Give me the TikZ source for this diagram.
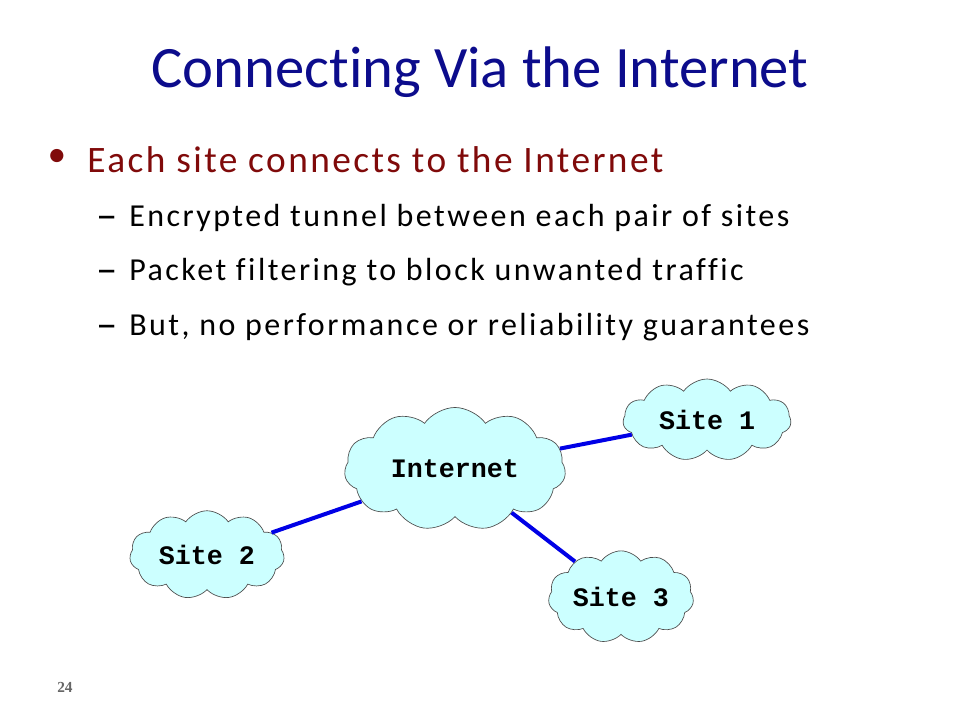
\documentclass[tikz,border=0pt]{standalone}
\usepackage{fontspec}
\setmainfont{Carlito}[Ligatures={NoCommon}]
\newfontfamily\widefont{Carlito}[Ligatures={NoCommon}, LetterSpace=6.5]
\newfontfamily\subfont{Carlito}[Ligatures={NoCommon}, LetterSpace=7.7]
\newfontfamily\cloudfont{Liberation Mono}
\newfontfamily\numfont{Liberation Serif}
\usetikzlibrary{shapes.symbols}

\definecolor{titleblue}{RGB}{12,12,140}
\definecolor{bulletred}{RGB}{128,10,10}
\definecolor{cloudfill}{RGB}{204,255,255}
\definecolor{linkblue}{RGB}{0,0,230}

\begin{document}
\begin{tikzpicture}[x=0.75pt, y=-0.75pt,
	site/.style={cloud, draw=black!70, line width=0.5pt, fill=cloudfill, cloud puffs=11, cloud puff arc=110, inner sep=0pt, font=\cloudfont\bfseries\fontsize{20}{23}\selectfont},
	link/.style={draw=linkblue, line width=3pt},
	item/.style={anchor=base west, inner sep=0pt, font=\subfont\fontsize{24}{29}\selectfont},
	dashmark/.style={anchor=base west, inner sep=0pt, font=\fontsize{32}{36}\selectfont}]

		\useasboundingbox[fill=white] (0,0) rectangle (960,720);

		\node[anchor=base, inner sep=0pt, text=titleblue, font=\fontsize{44}{53}\selectfont] (title) at (480,88) {Connecting Via the Internet};

		\node[inner sep=0pt, text=bulletred, font=\fontsize{28}{34}\selectfont] (dot) at (57,158) {•};
		\node[item, text=bulletred, font=\widefont\fontsize{28}{34}\selectfont] (each) at (87,173) {Each site connects to the Internet};

		\node[dashmark] (dash1) at (96,230) {–};
		\node[item] (tunnel) at (129,227) {Encrypted tunnel between each pair of sites};
		\node[dashmark] (dash2) at (96,284) {–};
		\node[item] (filter) at (129,281) {Packet filtering to block unwanted traffic};
		\node[dashmark] (dash3) at (96,338) {–};
		\node[item] (nogua) at (129,335) {But, no performance or reliability guarantees};

		\node[site, minimum width=166pt, minimum height=92pt, aspect=1.8] (inet) at (455,469) {Internet};
		\node[site, minimum width=126pt, minimum height=60pt, aspect=2.1] (s1) at (707,420) {Site 1};
		\node[site, minimum width=116pt, minimum height=60pt, aspect=1.9] (s2) at (207,555) {Site 2};
		\node[site, minimum width=109pt, minimum height=60pt, aspect=1.8] (s3) at (621,597) {Site 3};

		\draw[link] (inet) -- (s1);
		\draw[link] (inet) -- (s2);
		\draw[link] (inet) -- (s3);

		\node[anchor=base west, inner sep=0pt, text=black!60, font=\numfont\bfseries\fontsize{11.5}{13}\selectfont] (page) at (57,692) {24};
    \end{tikzpicture}
\end{document}
